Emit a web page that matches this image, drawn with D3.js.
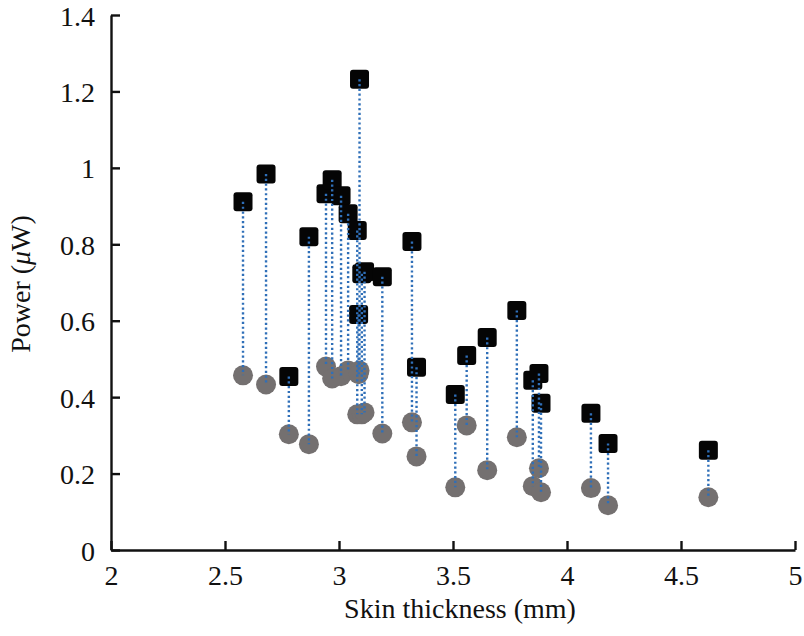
<!DOCTYPE html>
<html><head><meta charset="utf-8">
<script src="https://cdn.jsdelivr.net/npm/d3@7"></script>
<style>body{margin:0;background:#fff}</style>
</head><body>
<svg id="c" width="804" height="636"></svg>
<script>
const thickness = [2.579,2.68,2.78,2.868,2.943,2.97,3.009,3.04,3.08,3.09,3.086,3.1,3.112,3.19,3.32,3.34,3.51,3.56,3.65,3.78,3.85,3.877,3.886,4.105,4.18,4.62];
const powerHigh = [0.911,0.984,0.454,0.82,0.932,0.969,0.927,0.88,0.836,1.232,0.616,0.723,0.728,0.715,0.807,0.478,0.407,0.509,0.556,0.627,0.444,0.462,0.384,0.358,0.279,0.261];
const powerLow  = [0.457,0.433,0.303,0.277,0.48,0.449,0.455,0.47,0.355,0.47,0.46,0.355,0.36,0.305,0.334,0.245,0.164,0.326,0.209,0.295,0.167,0.214,0.151,0.162,0.117,0.138];
const xTicks = [2,2.5,3,3.5,4,4.5,5];
const yTicks = [0,0.2,0.4,0.6,0.8,1,1.2,1.4];

const svg = d3.select('#c');
const x = d3.scaleLinear().domain([2,5]).range([111,795]);
const y = d3.scaleLinear().domain([0,1.4]).range([550,15]);
const font = '"Liberation Serif", "Times New Roman", serif';

const xAxis = d3.axisBottom(x).tickValues(xTicks).tickFormat(d=>String(d)).tickSize(-9).tickSizeOuter(0).tickPadding(15);
const gx = svg.append('g').attr('transform','translate(0,550)').call(xAxis);
const yAxis = d3.axisLeft(y).tickValues(yTicks).tickFormat(d=>String(d)).tickSize(-9).tickSizeOuter(0).tickPadding(16);
const gy = svg.append('g').attr('transform','translate(111,0)').call(yAxis);
[gx,gy].forEach(g=>{
  g.selectAll('.domain').attr('stroke','#111').attr('stroke-width',2.4);
  g.selectAll('.tick line').attr('stroke','#111').attr('stroke-width',2.4);
  g.selectAll('.tick text').attr('font-family',font).attr('font-size',28).attr('fill','#111');
});
gx.selectAll('.tick text').attr('dy','0.71em');
gy.selectAll('.tick text').attr('dy','0.36em');

svg.append('text').attr('x',460).attr('y',618).attr('text-anchor','middle')
  .attr('font-family',font).attr('font-size',28).attr('fill','#111').text('Skin thickness (mm)');
const yl = svg.append('text').attr('transform','translate(30,284) rotate(-90)').attr('text-anchor','middle')
  .attr('font-family',font).attr('font-size',28).attr('fill','#111');
yl.append('tspan').text('Power (');
yl.append('tspan').attr('font-style','italic').text('μ');
yl.append('tspan').text('W)');

const idx = d3.range(thickness.length);
svg.append('g').selectAll('circle').data(idx).join('circle')
  .attr('cx',i=>x(thickness[i])).attr('cy',i=>y(powerLow[i])).attr('r',10).attr('fill','#747070');
svg.append('g').selectAll('rect').data(idx).join('rect')
  .attr('x',i=>x(thickness[i])-9.5).attr('y',i=>y(powerHigh[i])-9.5).attr('width',19).attr('height',19)
  .attr('rx',3).attr('fill','#050505');
svg.append('g').selectAll('line').data(idx).join('line')
  .attr('x1',i=>x(thickness[i])).attr('x2',i=>x(thickness[i]))
  .attr('y1',i=>y(powerHigh[i])).attr('y2',i=>y(powerLow[i]))
  .attr('stroke','#2f6fb8').attr('stroke-width',2.4).attr('stroke-dasharray','2.2,2.6');
</script>
</body></html>
